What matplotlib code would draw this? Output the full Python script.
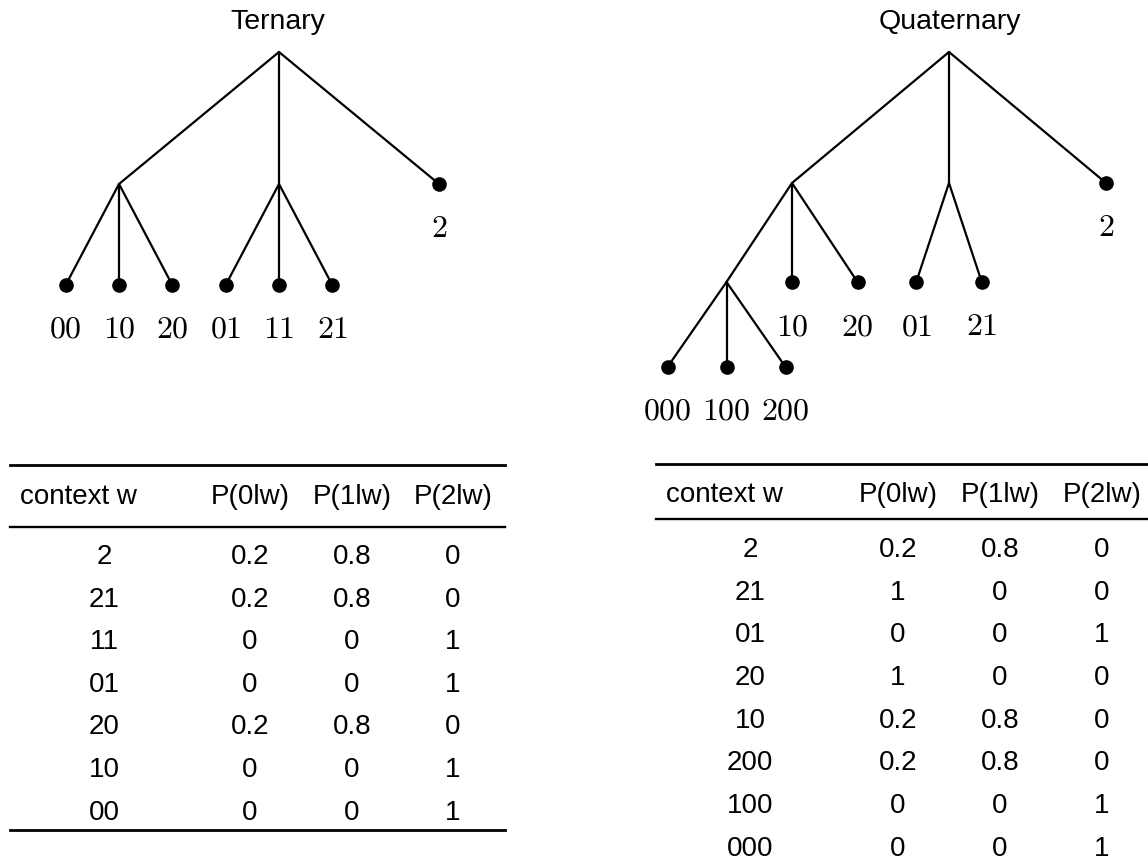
import matplotlib
matplotlib.use('Agg')
import matplotlib.pyplot as plt

plt.rcParams['font.family'] = ['Liberation Sans', 'DejaVu Sans']
plt.rcParams['mathtext.fontset'] = 'cm'

# leaves of the context trees (context string w)
tern_leaves = ['00', '10', '20', '01', '11', '21', '2']
quat_leaves = ['000', '100', '200', '10', '20', '01', '21', '2']

# tables
headers = ['context w', 'P(0lw)', 'P(1lw)', 'P(2lw)']
tern_ctx = ['2', '21', '11', '01', '20', '10', '00']
tern_p0 = [0.2, 0.2, 0, 0, 0.2, 0, 0]
tern_p1 = [0.8, 0.8, 0, 0, 0.8, 0, 0]
tern_p2 = [0, 0, 1, 1, 0, 1, 1]
quat_ctx = ['2', '21', '01', '20', '10', '200', '100', '000']
quat_p0 = [0.2, 1, 0, 1, 0.2, 0.2, 0, 0]
quat_p1 = [0.8, 0, 0, 0, 0.8, 0.8, 0, 0]
quat_p2 = [0, 0, 1, 0, 0, 0, 1, 1]


def build(leaves):
    root = {}
    for w in leaves:
        node = root
        for s in reversed(w):
            node = node.setdefault(s, {})
    return root


def draw_tree(ax, node, x, depth, ys, spread, ctx=''):
    kids = sorted(node)
    n = len(kids)
    for i, s in enumerate(kids):
        cx = x + (i - (n - 1) / 2) * spread[depth]
        cy = ys[depth + 1]
        ax.plot([x, cx], [ys[depth], cy], color='black', lw=1.6, solid_capstyle='round')
        w = s + ctx
        if node[s]:
            draw_tree(ax, node[s], cx, depth + 1, ys, spread, w)
        else:
            ax.plot(cx, cy, 'o', color='black', ms=9.5)
            ax.text(cx, cy + 45, '$' + w + '$', ha='center', va='center', fontsize=23)


def draw_table(ax, ctx, p0, p1, p2, x0, x1, top, head_y, mid, row0, pitch, cols, bottom=None):
    ax.plot([x0, x1], [top, top], color='black', lw=2.0)
    ax.plot([x0, x1], [mid, mid], color='black', lw=1.7)
    ax.text(x0 + 10, head_y, headers[0], ha='left', va='center', fontsize=20)
    for h, cx in zip(headers[1:], cols[1:]):
        ax.text(cx, head_y, h, ha='center', va='center', fontsize=20)
    for i, row in enumerate(zip(ctx, p0, p1, p2)):
        y = row0 + i * pitch
        for j, v in enumerate(row):
            t = v if j == 0 else '{:g}'.format(v)
            ax.text(cols[j], y, t, ha='center', va='center', fontsize=20)
    if bottom is not None:
        ax.plot([x0, x1], [bottom, bottom], color='black', lw=2.0)


fig = plt.figure(figsize=(11.48, 8.66), dpi=100)
ax = fig.add_axes([0, 0, 1, 1])
ax.set_xlim(0, 1148)
ax.set_ylim(866, 0)
ax.axis('off')

# trees
ax.text(278, 22, 'Ternary', ha='center', va='center', fontsize=20.5)
draw_tree(ax, build(tern_leaves), 279, 0, [52, 184, 285], [160, 53.3])
ax.text(950, 22, 'Quaternary', ha='center', va='center', fontsize=20.5)
draw_tree(ax, build(quat_leaves), 949, 0, [52, 183, 282, 367], [157, 65.5, 59])

# tables
draw_table(ax, tern_ctx, tern_p0, tern_p1, tern_p2, 10, 505, 465, 497, 527, 557, 42.6,
           [104, 250, 352, 453], bottom=830)
draw_table(ax, quat_ctx, quat_p0, quat_p1, quat_p2, 656, 1148, 464, 495, 519, 550, 42.7,
           [750, 898, 1000, 1102])

fig.savefig('out.png', dpi=100)
